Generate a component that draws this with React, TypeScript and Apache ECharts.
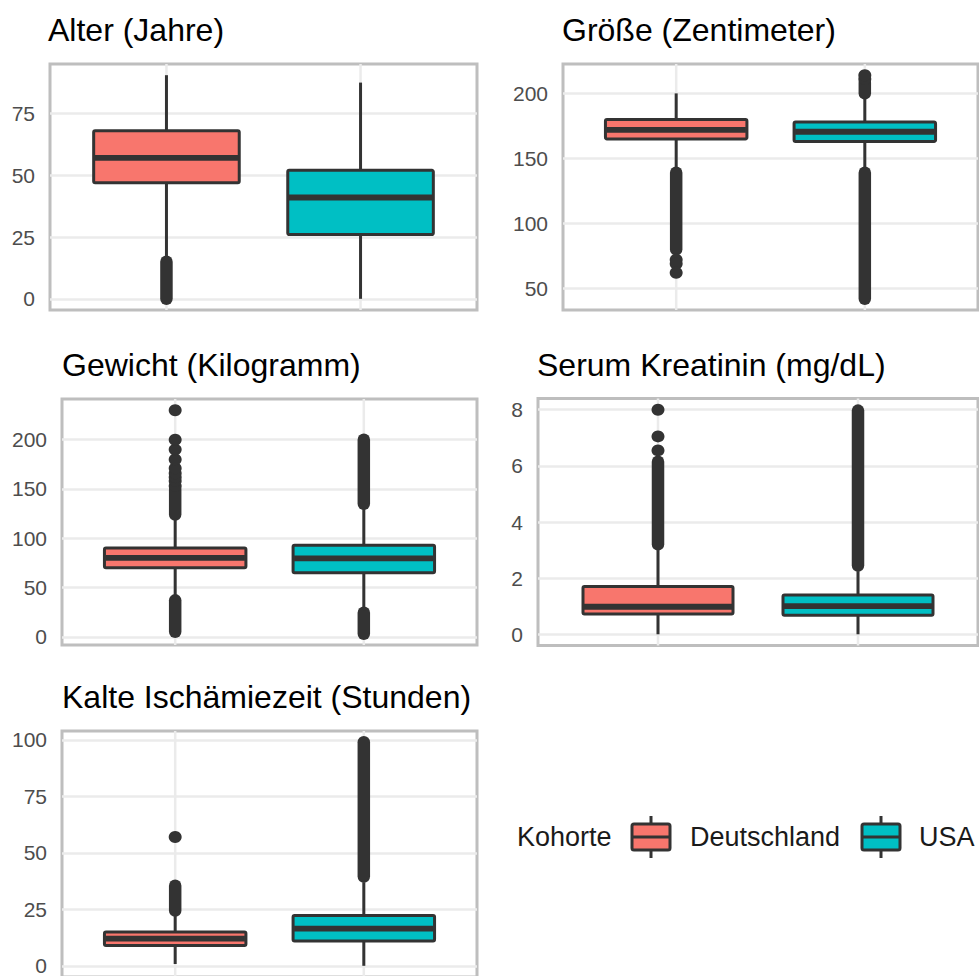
import React, { useEffect, useRef } from "react";
import * as echarts from "echarts";

const FONT = "'Liberation Sans', Arial, Helvetica, sans-serif";

const cohorts = ["Deutschland", "USA"];
const cohortColors = ["#F8766D", "#00BFC4"];

const panelTitles = [
  "Alter (Jahre)",
  "Größe (Zentimeter)",
  "Gewicht (Kilogramm)",
  "Serum Kreatinin (mg/dL)",
  "Kalte Ischämiezeit (Stunden)",
];

// box stats per cohort: [lowerWhisker, Q1, median, Q3, upperWhisker]
const alterBoxes = [
  [16, 47, 57, 68, 90.5],
  [0, 26, 41, 52, 87.5],
];
const groesseBoxes = [
  [142, 165, 172, 180, 200],
  [142, 163, 170.5, 178, 197],
];
const gewichtBoxes = [
  [41, 70, 80, 90, 120],
  [27, 65, 79.5, 93, 131],
];
const kreatininBoxes = [
  [0, 0.72, 0.98, 1.7, 3.0],
  [0, 0.68, 1.0, 1.4, 2.25],
];
const kalteBoxes = [
  [0.8, 9, 12, 15, 22],
  [0, 11, 16.5, 22.3, 37],
];

// isolated outliers per cohort
const alterOutliers = [[], []];
const groesseOutliers = [[72, 69, 62], [211, 214]];
const gewichtOutliers = [[153, 158, 162, 166, 171, 180, 190, 200, 230], []];
const kreatininOutliers = [[6.55, 7.05, 8.0], []];
const kalteOutliers = [[57], []];

// densely packed outlier runs per cohort: [from, to]
const alterOutlierRuns = [[[0, 15]], []];
const groesseOutlierRuns = [[[80, 139]], [[42, 139], [200, 208]]];
const gewichtOutlierRuns = [[[5, 37], [124, 149]], [[3, 24.5], [135, 200]]];
const kreatininOutlierRuns = [[[3.2, 6.15]], [[2.45, 7.97]]];
const kalteOutlierRuns = [[[24.4, 35.5]], [[39.5, 99]]];

// tick labels
const alterTicks = [0, 25, 50, 75];
const groesseTicks = [50, 100, 150, 200];
const gewichtTicks = [0, 50, 100, 150, 200];
const kreatininTicks = [0, 2, 4, 6, 8];
const kalteTicks = [0, 25, 50, 75, 100];

const panelData = [
  { boxes: alterBoxes, outliers: alterOutliers, runs: alterOutlierRuns, ticks: alterTicks },
  { boxes: groesseBoxes, outliers: groesseOutliers, runs: groesseOutlierRuns, ticks: groesseTicks },
  { boxes: gewichtBoxes, outliers: gewichtOutliers, runs: gewichtOutlierRuns, ticks: gewichtTicks },
  { boxes: kreatininBoxes, outliers: kreatininOutliers, runs: kreatininOutlierRuns, ticks: kreatininTicks },
  { boxes: kalteBoxes, outliers: kalteOutliers, runs: kalteOutlierRuns, ticks: kalteTicks },
];

// layout (pixels)
const panelRects = [
  { left: 50, top: 64, width: 427, height: 246 },
  { left: 563, top: 64, width: 415, height: 246 },
  { left: 62, top: 399, width: 415, height: 246 },
  { left: 538, top: 398.5, width: 440, height: 247 },
  { left: 62, top: 731, width: 415, height: 246 },
];
const titlePos = [
  { x: 48, y: 30 },
  { x: 562, y: 30 },
  { x: 62, y: 365 },
  { x: 537, y: 365 },
  { x: 62, y: 697 },
];

const LINE = "#333333";
const GRID = "#ebebeb";

function extentOf(p: any) {
  let lo = Infinity;
  let hi = -Infinity;
  p.boxes.forEach((b: number[]) => {
    lo = Math.min(lo, b[0]);
    hi = Math.max(hi, b[4]);
  });
  p.outliers.forEach((arr: number[]) => arr.forEach((v) => { lo = Math.min(lo, v); hi = Math.max(hi, v); }));
  p.runs.forEach((arr: number[][]) => arr.forEach((r) => { lo = Math.min(lo, r[0]); hi = Math.max(hi, r[1]); }));
  const pad = (hi - lo) * 0.05;
  return [lo - pad, hi + pad];
}

const boxRender = (params: any, api: any) => {
  const x = api.value(0);
  const lo = api.coord([x, api.value(1)]);
  const q1 = api.coord([x, api.value(2)]);
  const md = api.coord([x, api.value(3)]);
  const q3 = api.coord([x, api.value(4)]);
  const hi = api.coord([x, api.value(5)]);
  const w = api.size([0.75, 0])[0];
  const cx = q1[0];
  const color = cohortColors[api.value(6)];
  const ls = { stroke: LINE, lineWidth: 3 };
  return {
    type: "group",
    children: [
      { type: "line", shape: { x1: cx, y1: q3[1], x2: cx, y2: hi[1] }, style: ls },
      { type: "line", shape: { x1: cx, y1: q1[1], x2: cx, y2: lo[1] }, style: ls },
      {
        type: "rect",
        shape: { x: cx - w / 2, y: q3[1], width: w, height: q1[1] - q3[1], r: 1.5 },
        style: { fill: color, stroke: LINE, lineWidth: 3 },
      },
      { type: "line", shape: { x1: cx - w / 2 + 1, y1: md[1], x2: cx + w / 2 - 1, y2: md[1] }, style: { stroke: LINE, lineWidth: 5.8 } },
    ],
  };
};

const runRender = (params: any, api: any) => {
  const x = api.value(0);
  const a = api.coord([x, api.value(1)]);
  const b = api.coord([x, api.value(2)]);
  return {
    type: "line",
    shape: { x1: a[0], y1: a[1], x2: b[0], y2: b[1] },
    style: { stroke: LINE, lineWidth: 12.5, lineCap: "round" },
  };
};

const vgridRender = (params: any, api: any) => {
  const cs = params.coordSys;
  const p = api.coord([api.value(0), 0]);
  return {
    type: "line",
    shape: { x1: p[0], y1: cs.y, x2: p[0], y2: cs.y + cs.height },
    style: { stroke: GRID, lineWidth: 2.5 },
  };
};

function legendKey(x: number, y: number, color: string) {
  // x,y top-left of the key box
  const w = 38;
  const h = 26;
  const cx = x + w / 2;
  return [
    { type: "line", shape: { x1: cx, y1: y - 8, x2: cx, y2: y }, style: { stroke: LINE, lineWidth: 3 } },
    { type: "line", shape: { x1: cx, y1: y + h, x2: cx, y2: y + h + 8 }, style: { stroke: LINE, lineWidth: 3 } },
    { type: "rect", shape: { x, y, width: w, height: h, r: 2 }, style: { fill: color, stroke: LINE, lineWidth: 3 } },
    { type: "line", shape: { x1: x, y1: y + h / 2, x2: x + w, y2: y + h / 2 }, style: { stroke: LINE, lineWidth: 3 } },
  ];
}

export default function App() {
  const ref = useRef<HTMLDivElement>(null);
  useEffect(() => {
    document.body.style.margin = "0";
    if (!ref.current) return;
    const chart = echarts.init(ref.current, null, { renderer: "svg" });

    const grid: any[] = [];
    const xAxis: any[] = [];
    const yAxis: any[] = [];
    const series: any[] = [];

    panelData.forEach((p, i) => {
      const r = panelRects[i];
      const [ymin, ymax] = extentOf(p);
      grid.push({
        left: r.left,
        top: r.top,
        width: r.width,
        height: r.height,
        show: true,
        borderColor: "#bebebe",
        borderWidth: 3,
        backgroundColor: "transparent",
        containLabel: false,
        outerBoundsMode: "none",
      });
      xAxis.push({
        gridIndex: i,
        type: "value",
        min: 0.4,
        max: 2.6,
        axisLine: { show: false },
        axisTick: { show: false },
        axisLabel: { show: false },
        splitLine: { show: false },
      });
      yAxis.push({
        gridIndex: i,
        type: "value",
        min: ymin,
        max: ymax,
        axisLine: { show: false },
        axisTick: { show: false, customValues: p.ticks },
        axisLabel: { customValues: p.ticks, fontSize: 21, color: "#4d4d4d", margin: 15, fontFamily: FONT },
        splitLine: { show: true, lineStyle: { color: GRID, width: 2.5 } },
      });
      series.push({
        type: "custom",
        xAxisIndex: i,
        yAxisIndex: i,
        z: 1,
        silent: true,
        renderItem: vgridRender,
        data: cohorts.map((_, c) => [c + 1]),
      });
      const runData: number[][] = [];
      p.runs.forEach((arr: number[][], c: number) => arr.forEach((rr) => runData.push([c + 1, rr[0], rr[1]])));
      series.push({
        type: "custom",
        xAxisIndex: i,
        yAxisIndex: i,
        z: 3,
        silent: true,
        renderItem: runRender,
        data: runData,
      });
      const dotData: number[][] = [];
      p.outliers.forEach((arr: number[], c: number) => arr.forEach((v) => dotData.push([c + 1, v])));
      series.push({
        type: "scatter",
        xAxisIndex: i,
        yAxisIndex: i,
        z: 3,
        silent: true,
        symbol: "circle",
        symbolSize: [13, 12],
        itemStyle: { color: LINE, opacity: 1 },
        data: dotData,
      });
      series.push({
        type: "custom",
        xAxisIndex: i,
        yAxisIndex: i,
        z: 4,
        silent: true,
        renderItem: boxRender,
        data: p.boxes.map((b: number[], c: number) => [c + 1, b[0], b[1], b[2], b[3], b[4], c]),
      });
    });

    const graphic: any[] = [];
    panelTitles.forEach((t, i) => {
      graphic.push({
        type: "text",
        x: titlePos[i].x,
        y: titlePos[i].y,
        silent: true,
        style: { text: t, fontSize: 32, fontFamily: FONT, fill: "#000000", verticalAlign: "middle", align: "left" },
      });
    });
    const legendY = 837;
    graphic.push({
      type: "text", x: 517, y: legendY, silent: true,
      style: { text: "Kohorte", fontSize: 27, fontFamily: FONT, fill: "#1a1a1a", verticalAlign: "middle" },
    });
    graphic.push(...legendKey(632, legendY - 13, cohortColors[0]).map((e) => ({ ...e, silent: true })));
    graphic.push({
      type: "text", x: 690, y: legendY, silent: true,
      style: { text: cohorts[0], fontSize: 27, fontFamily: FONT, fill: "#1a1a1a", verticalAlign: "middle" },
    });
    graphic.push(...legendKey(862, legendY - 13, cohortColors[1]).map((e) => ({ ...e, silent: true })));
    graphic.push({
      type: "text", x: 919, y: legendY, silent: true,
      style: { text: cohorts[1], fontSize: 27, fontFamily: FONT, fill: "#1a1a1a", verticalAlign: "middle" },
    });

    chart.setOption({
      animation: false,
      backgroundColor: "#ffffff",
      textStyle: { fontFamily: FONT },
      grid,
      xAxis,
      yAxis,
      series,
      graphic,
    });
    return () => chart.dispose();
  }, []);
  return <div ref={ref} style={{ width: 979, height: 976 }} />;
}
